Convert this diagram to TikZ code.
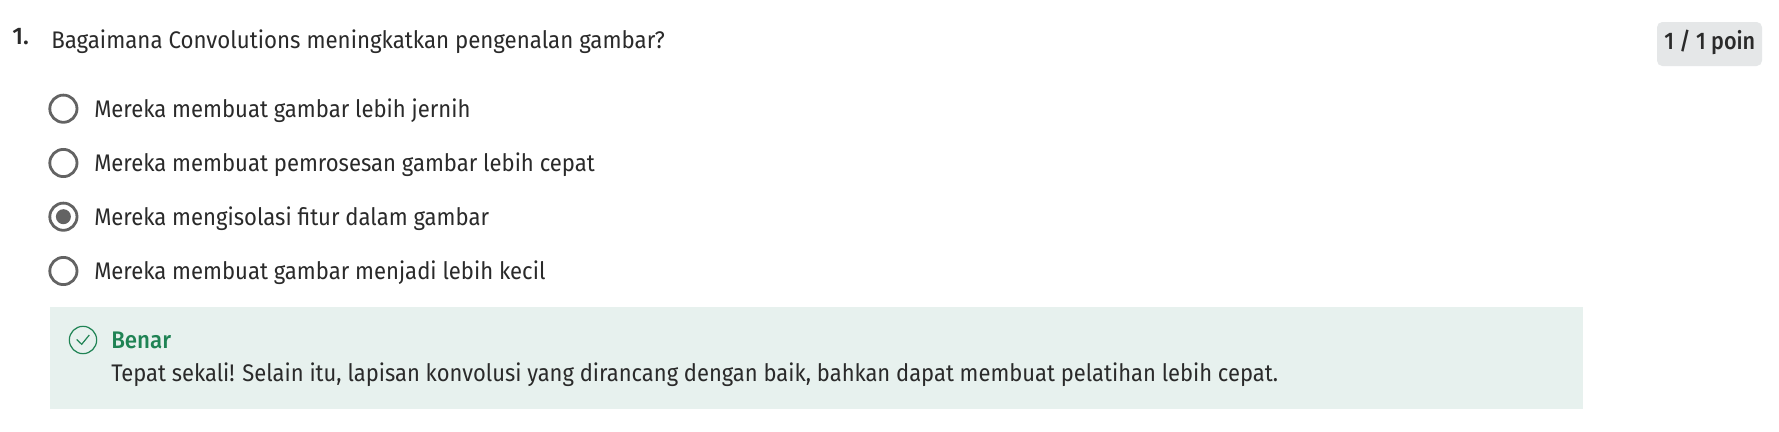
\documentclass[tikz,border=0pt]{standalone}
\usepackage{fontspec}
\newfontfamily\bodyf{Fira Sans}[FakeStretch=0.92]
\newfontfamily\bodyq{Fira Sans}[FakeStretch=0.928]
\newfontfamily\bodyt{Fira Sans}[FakeStretch=0.915]
\newfontfamily\boldf{Fira Sans Medium}[FakeStretch=0.93]
\newfontfamily\boldp{Fira Sans Medium}[FakeStretch=0.9]
\newfontfamily\boldn{Fira Sans Medium}[FakeStretch=1.0]
\definecolor{ink}{HTML}{2A2A2A}
\definecolor{ringc}{HTML}{636363}
\definecolor{panelc}{HTML}{E7F1EE}
\definecolor{greenc}{HTML}{1F8354}
\definecolor{badgec}{HTML}{E5E7E8}
\tikzset{
  px/.style={x=0.75pt,y=-0.75pt},
  body/.style={inner sep=0,anchor=base west,text=ink,font=\bodyf\fontsize{18}{20}\selectfont},
  strong/.style={inner sep=0,anchor=base west,text=ink,font=\boldf\fontsize{18}{20}\selectfont},
  radio/.style={circle,draw=ringc,line width=2.1pt,fill=white,minimum size=20.4pt,inner sep=0}
}
\begin{document}
\begin{tikzpicture}[px]
\useasboundingbox (0,0) rectangle (1779,432);
\fill[white] (0,0) rectangle (1779,432);
\fill[panelc] (50,307) rectangle (1583,409);
\fill[badgec,rounded corners=4pt] (1657,22) rectangle (1762,66);
\node[strong,font=\boldn\fontsize{18}{20}\selectfont] (num) at (12,44) {1.};
\node[body,font=\bodyq\fontsize{18}{20}\selectfont] (q) at (51,48) {Bagaimana Convolutions meningkatkan pengenalan gambar?};
\node[strong,font=\boldp\fontsize{18}{20}\selectfont] (pts) at (1664,50) {1 / 1 poin};
\node[radio] (r1) at (63.4,108.7) {};
\node[radio] (r2) at (63.4,163) {};
\node[radio] (r3) at (63.4,216.7) {};
\node[radio] (r4) at (63.4,271) {};
\fill[ringc] (r3.center) circle (7.5);
\node[body] (o1) at (94,117) {Mereka membuat gambar lebih jernih};
\node[body] (o2) at (94,171) {Mereka membuat pemrosesan gambar lebih cepat};
\node[body] (o3) at (94,225) {Mereka mengisolasi fitur dalam gambar};
\node[body] (o4) at (94,279) {Mereka membuat gambar menjadi lebih kecil};
\node[circle,draw=greenc,line width=0.9pt,minimum size=20.5pt,inner sep=0] (ok) at (83,340) {};
\draw[greenc,line width=0.9pt] (76.7,339.5) -- (81.7,344.3) -- (89.3,335);
\node[strong,text=greenc] (b) at (111,348) {Benar};
\node[body,font=\bodyt\fontsize{18}{20}\selectfont] (t) at (111,381) {Tepat sekali! Selain itu, lapisan konvolusi yang dirancang dengan baik, bahkan dapat membuat pelatihan lebih cepat.};
\end{tikzpicture}
\end{document}
